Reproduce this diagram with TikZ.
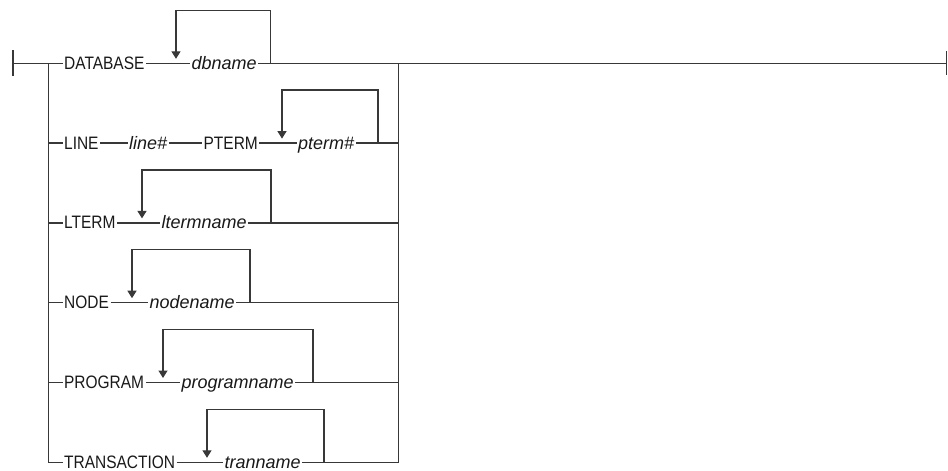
\documentclass[tikz,border=0pt]{standalone}
\usepackage{fontspec}
\setmainfont{Liberation Sans}
\newfontfamily\kwfont[FakeStretch=0.86]{Liberation Sans}
\usepackage{tikz}
\usetikzlibrary{arrows.meta,positioning}

\begin{document}
\begin{tikzpicture}[x=1pt,y=-1pt,line width=1.3pt,color=black!78,>={Triangle[width=9pt,length=7.5pt]}]
\tikzstyle{kw}=[anchor=west,inner xsep=1pt,inner ysep=0pt,text height=12pt,text depth=0pt,text=black!90,font=\kwfont\fontsize{18}{18}\selectfont]
\tikzstyle{var}=[kw,font=\fontsize{18}{18}\selectfont\itshape]
\tikzstyle{rep}=[->,shorten >=4.5pt]

\useasboundingbox (0,0) rectangle (948,471);

\coordinate (start) at (13,63.3);
\coordinate (lrail) at (48.3,63.3);
\coordinate (rrail) at (398.3,63.3);
\coordinate (stop)  at (946.5,63.3);

\node[kw]  (db)   at (62.5,63.3)  {DATABASE};
\node[var] (dbn)  at (190,63.3)   {dbname};
\coordinate (dbL) at (176,63.3);
\coordinate (dbR) at (270.5,63.3);

\node[kw]  (ln)   at (62.5,143.1) {LINE};
\node[var] (lnn)  at (127.5,143.1) {line\#};
\node[kw]  (pt)   at (202,143.1)  {PTERM};
\node[var] (ptn)  at (296.5,143.1) {pterm\#};
\coordinate (ptL) at (282,143.1);
\coordinate (ptR) at (378,143.1);

\node[kw]  (lt)   at (62.5,222.9) {LTERM};
\node[var] (ltn)  at (160,222.9)  {ltermname};
\coordinate (ltL) at (142,222.9);
\coordinate (ltR) at (271,222.9);

\node[kw]  (nd)   at (62.5,302.7) {NODE};
\node[var] (ndn)  at (148,302.7)  {nodename};
\coordinate (ndL) at (132,302.7);
\coordinate (ndR) at (250,302.7);

\node[kw]  (pg)   at (62.5,382.5) {PROGRAM};
\node[var] (pgn)  at (180,382.5)  {programname};
\coordinate (pgL) at (163,382.5);
\coordinate (pgR) at (313,382.5);

\node[kw]  (tr)   at (62.5,462.3) {TRANSACTION};
\node[var] (trn)  at (223,462.3)  {tranname};
\coordinate (trL) at (207,462.3);
\coordinate (trR) at (324,462.3);

\draw ([yshift=13pt]start) -- ([yshift=-13pt]start);
\draw ([yshift=12pt]stop) -- ([yshift=-12pt]stop);
\draw (start) -- (lrail) -- (db.west);
\draw (db.east) -- (dbn.west);
\draw (dbn.east) -- (rrail) -- (stop);
\draw (lrail) |- (tr.west);
\draw (trn.east) -| (rrail);

\draw (ln.west -| lrail) -- (ln.west);
\draw (ln.east) -- (lnn.west);
\draw (lnn.east) -- (pt.west);
\draw (pt.east) -- (ptn.west);
\draw (ptn.east) -- (ptn.east -| rrail);

\draw (lt.west -| lrail) -- (lt.west);
\draw (lt.east) -- (ltn.west);
\draw (ltn.east) -- (ltn.east -| rrail);

\draw (nd.west -| lrail) -- (nd.west);
\draw (nd.east) -- (ndn.west);
\draw (ndn.east) -- (ndn.east -| rrail);

\draw (pg.west -| lrail) -- (pg.west);
\draw (pg.east) -- (pgn.west);
\draw (pgn.east) -- (pgn.east -| rrail);

\draw (tr.east) -- (trn.west);

\draw[rep] (dbR) -- ++(0,-53) -| (dbL);
\draw[rep] (ptR) -- ++(0,-53) -| (ptL);
\draw[rep] (ltR) -- ++(0,-53) -| (ltL);
\draw[rep] (ndR) -- ++(0,-53) -| (ndL);
\draw[rep] (pgR) -- ++(0,-53) -| (pgL);
\draw[rep] (trR) -- ++(0,-53) -| (trL);
\end{tikzpicture}
\end{document}
